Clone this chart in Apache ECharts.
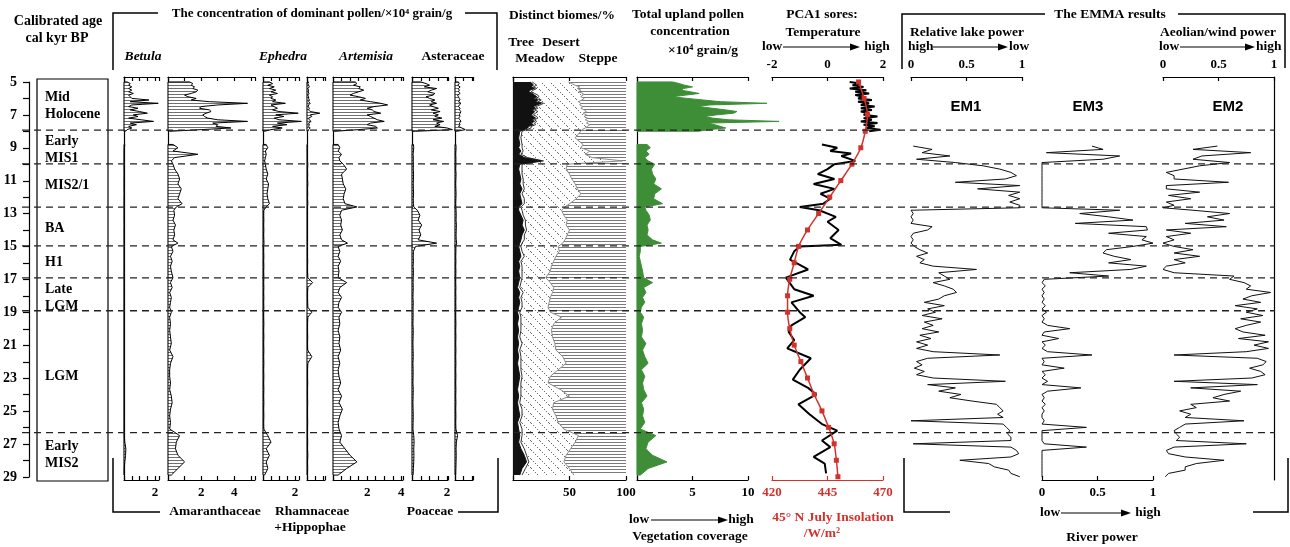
<!DOCTYPE html>
<html>
<head>
<meta charset="utf-8">
<script src="https://cdn.jsdelivr.net/npm/echarts@6/dist/echarts.min.js"></script>
<style>html,body{margin:0;background:#fff}#c{width:1290px;height:547px}</style>
</head>
<body>
<div id="c"></div>
<script>
// ---- data (ages in cal kyr BP) ----
const pollenAge = [5.0,5.1,5.2,5.3,5.4,5.5,5.6,5.7,5.8,5.9,6.0,6.1,6.2,6.3,6.4,6.5,6.6,6.7,6.8,6.9,7.0,7.1,7.2,7.3,7.4,7.5,7.6,7.7,7.8,7.9,8.0,8.4,
  8.8,9.0,9.2,9.4,9.6,9.8,10.0,10.3,10.6,10.9,11.2,11.5,11.8,12.1,12.4,12.6,12.8,13.1,13.4,13.7,14.0,14.3,14.6,14.8,15.0,
  15.3,15.6,15.9,16.2,16.5,16.9,17.2,17.5,17.8,18.1,18.4,18.7,19.0,19.3,19.7,20.1,20.5,20.9,21.3,21.7,22.1,22.5,22.9,23.3,
  23.7,24.1,24.5,24.9,25.3,25.7,26.1,26.5,26.9,27.3,27.7,28.1,28.5,28.9];

const betula = [0.2,0.4,0.3,0.5,0.3,0.5,0.3,0.6,0.3,0.4,0.5,1.6,0.4,2.2,0.5,0.3,0.9,0.4,1.0,1.5,0.6,0.9,0.3,1.1,1.9,0.4,0.8,0.3,0.5,0.2,0.1,null,
  0.05,0.03,0.02,0.02,0.02,0.02, 0.02,0.02,0.03,0.02,0.02,0.02,0.03,0.02,0.02,0.02, 0.02,0.02,0.02,0.03,0.02,0.02,0.02,0.03,0.02,
  0.02,0.02,0.02,0.02,0.02,0.02, 0.02,0.02,0.02,0.02,0.02,0.02,0.02,
  0.02,0.02,0.02,0.02,0.02,0.02,0.02,0.02,0.02,0.02,0.02,0.02,0.02,0.02,0.02,0.02,0.02,0.02,0.02,0.05,0.12,0.1,0.05,0.02,0.02];
const amaranth = [1.3,1.5,1.4,1.6,1.5,1.8,1.7,1.4,1.0,1.2,1.7,1.4,2.5,4.8,3.0,2.0,1.9,2.5,2.6,2.3,2.1,2.2,2.4,3.0,4.8,2.7,3.0,2.9,3.8,2.0,0.1,null,
  0.3,0.6,0.3,1.8,0.4,0.2, 0.3,0.4,0.6,0.7,0.6,0.8,0.7,0.6,0.85,0.5, 0.35,0.4,0.3,0.45,0.35,0.4,0.3,0.6,0.2,
  0.3,0.15,0.25,0.15,0.2,0.3, 0.15,0.25,0.1,0.2,0.15,0.1,0.2,
  0.1,0.15,0.1,0.15,0.2,0.1,0.3,0.15,0.1,0.1,0.15,0.1,0.2,0.25,0.15,0.1,0.15,0.1,0.7,0.5,0.45,0.6,1.0,0.6,0.2];
const ephedra = [0.4,0.6,0.3,0.7,0.4,0.8,0.5,0.9,0.4,0.6,0.5,0.8,0.6,1.4,0.5,0.7,0.9,0.6,1.0,2.2,0.8,1.3,0.7,1.0,2.4,0.9,1.5,0.6,1.2,0.5,0.1,null,
  0.2,0.3,0.15,0.2,0.15,0.1, 0.15,0.2,0.3,0.2,0.35,0.3,0.25,0.3,0.4,0.2, 0.05,0.04,0.05,0.04,0.05,0.04,0.05,0.06,0.04,
  0.04,0.05,0.04,0.05,0.04,0.05, 0.04,0.05,0.04,0.05,0.04,0.05,0.04,
  0.04,0.05,0.04,0.05,0.04,0.05,0.04,0.05,0.04,0.05,0.04,0.05,0.04,0.05,0.04,0.05,0.04,0.05,0.3,0.5,0.2,0.4,0.2,0.3,0.1];
const rhamHippo = [0.1,0.05,0.1,0.15,0.05,0.1,0.08,0.12,0.05,0.1,0.1,0.15,0.1,0.2,0.1,0.08,0.15,0.1,0.2,0.8,0.2,0.3,0.1,0.15,0.25,0.1,0.15,0.1,0.2,0.1,0.05,null,
  0.03,0.03,0.03,0.03,0.03,0.03, 0.05,0.03,0.04,0.03,0.05,0.03,0.04,0.03,0.05,0.03, 0.03,0.03,0.03,0.03,0.03,0.03,0.03,0.03,0.03,
  0.03,0.03,0.04,0.03,0.03,0.05, 0.35,0.05,0.03,0.03,0.04,0.05,0.3,
  0.05,0.03,0.03,0.04,0.03,0.04,0.3,0.05,0.03,0.03,0.04,0.03,0.03,0.04,0.03,0.03,0.04,0.03,0.03,0.04,0.03,0.05,0.03,0.04,0.03];
const artemisia = [1.3,1.4,1.2,1.6,1.5,1.8,1.5,1.2,1.0,1.5,1.9,1.6,2.2,2.8,3.2,2.4,2.0,2.3,2.4,2.8,2.0,2.2,2.4,2.6,3.0,2.2,2.0,2.5,2.6,1.5,0.1,null,
  0.3,0.4,0.3,0.5,0.35,0.4, 0.6,0.8,0.5,0.55,0.6,0.75,0.65,0.6,0.7,1.4, 0.5,0.4,0.5,0.45,0.55,0.4,0.5,0.85,0.3,
  0.4,0.3,0.45,0.3,0.35,0.3, 0.8,0.4,0.3,0.5,0.35,0.3,0.5,
  0.35,0.4,0.3,0.4,0.35,0.45,0.3,0.4,0.3,0.35,0.45,0.3,0.5,0.35,0.55,0.4,0.3,0.35,0.5,0.4,0.7,1.0,1.4,0.8,0.3];
const asteraceae = [0.5,0.8,1.0,0.7,1.4,1.1,0.9,1.3,1.2,0.8,1.0,1.3,1.1,1.4,1.0,1.2,1.5,1.1,1.6,1.2,1.5,1.3,1.7,1.2,1.8,1.4,1.6,1.3,2.0,2.3,0.2,null,
  0.08,0.1,0.08,0.06,0.08,0.07, 0.08,0.07,0.09,0.08,0.07,0.08,0.09,0.07,0.08,0.1, 0.3,0.45,0.35,0.55,0.4,0.5,0.35,1.4,0.2,
  0.08,0.07,0.08,0.06,0.08,0.07, 0.06,0.07,0.06,0.05,0.07,0.06,0.06,
  0.06,0.05,0.07,0.06,0.05,0.06,0.07,0.05,0.06,0.06,0.05,0.07,0.06,0.05,0.06,0.07,0.06,0.05,0.1,0.12,0.1,0.11,0.1,0.08,0.06];
const poaceae = [0.2,0.25,0.15,0.3,0.2,0.25,0.2,0.3,0.15,0.2,0.25,0.3,0.2,0.35,0.25,0.2,0.3,0.25,0.35,0.3,0.25,0.3,0.2,0.3,0.35,0.25,0.3,0.2,0.4,0.6,0.1,null,
  0.05,0.06,0.05,0.04,0.05,0.05, 0.05,0.04,0.06,0.05,0.04,0.05,0.06,0.05,0.04,0.05, 0.06,0.07,0.06,0.08,0.07,0.06,0.07,0.1,0.05,
  0.05,0.04,0.05,0.04,0.05,0.04, 0.04,0.05,0.04,0.05,0.04,0.05,0.04,
  0.04,0.05,0.04,0.05,0.04,0.05,0.04,0.05,0.04,0.05,0.04,0.05,0.04,0.05,0.04,0.05,0.04,0.05,0.15,0.08,0.06,0.07,0.06,0.05,0.04];

// biomes, % of pollen sum
const treePct = [15,17,18,16,19,15,14,17,19,21,18,22,20,25,21,18,20,17,19,18,16,18,20,17,19,16,18,14,13,10,6,5,
  6,5,7,5,10,25, 6,5,6,7,6,8,6,7,8,5, 5,7,9,8,10,8,7,6,5, 6,7,5,6,5,6, 5,4,6,5,6,5,4,
  5,4,5,4,5,4,5,4,5,6,5,4,5,4,5,6,4,5,6,5,7,10,12,8,6];
const meadowPct = [2,2,3,2,2,3,2,2,3,2,2,3,2,2,3,2,2,2,3,2,2,3,2,2,2,3,2,2,3,2,2,2,
  2,3,2,2,3,2, 2,3,2,2,3,2,2,3,2,2, 3,2,2,3,2,2,3,2,2, 2,3,2,2,3,2, 2,2,3,2,2,3,2,
  2,3,2,2,3,2,2,3,2,2,2,3,2,2,3,2,2,3,2,2,3,2,2,3,2];
const steppePct = [51,48,45,41,43,40,42,38,38,40,37,39,42,40,41,38,40,37,35,38,35,37,34,36,33,35,32,34,36,39,40,45,
  38,40,32,36,30,3, 52,53,50,48,45,43,40,44,50,54, 57,55,52,53,50,52,54,56,60, 59,62,64,66,67,71, 67,64,65,67,68,69,67,
  57,64,66,65,63,62,56,53,60,67,69,58,50,64,65,62,60,55,42,45,49,53,55,50,46];

// total upland pollen concentration, x10^4 grain/g
const upland = [3.2,3.8,4.3,5.0,4.2,4.0,4.8,5.6,4.4,3.2,4.5,6.0,7.5,11.7,6.5,5.5,6.8,8.0,9.0,8.7,7.2,6.1,6.8,8.2,12.8,6.4,7.0,7.5,8.0,6.5,5.5,null,
  0.9,1.2,0.8,1.1,0.7,1.0, 1.6,1.3,1.4,1.7,1.5,2.2,1.6,1.5,2.3,0.7, 0.8,1.1,1.2,0.9,1.0,0.9,1.4,2.2,0.3,
  0.3,0.2,0.3,0.4,0.5,0.6, 1.4,0.6,0.8,0.5,0.7,0.4,0.3,
  0.6,0.4,0.5,0.4,0.8,0.5,0.7,1.0,0.4,0.7,0.5,0.6,0.9,0.4,0.6,0.5,0.7,0.3,1.7,1.0,0.8,1.4,2.7,1.0,0.3];

// PCA1 scores
const pcaAge = [5.0,5.1,5.2,5.3,5.4,5.5,5.6,5.7,5.8,5.9,6.0,6.1,6.2,6.3,6.4,6.5,6.6,6.7,6.8,6.9,7.0,7.1,7.2,7.3,7.4,7.5,7.6,7.7,7.8,7.9,8.0,8.4,
  8.8,9.0,9.2,9.35,9.5,9.8,10.0,10.3,10.6,10.9,11.2,11.5,11.8,12.1,12.4,12.6,12.8,13.2,13.5,14.0,14.5,14.9,15.0,15.3,
  15.8,16.4,16.9,17.6,18.0,18.4,19.0,19.3,19.8,20.2,20.7,21.2,21.8,22.5,23.1,23.6,24.0,24.6,25.2,25.8,26.2,26.8,27.2,27.8,28.2,28.8];
const pca1 = [0.8,1.2,0.9,1.3,0.8,1.4,1.0,1.5,1.0,1.3,1.1,1.6,1.1,1.5,1.2,1.7,1.2,1.6,1.2,1.5,1.3,1.8,1.3,1.6,1.2,1.8,1.3,1.7,1.4,1.9,1.5,null,
  -0.2,0.35,0.1,0.85,0.5,1.0, 0.25,0.0,-0.35,0.25,-0.5,0.25,-0.25,0.1,-0.15,-1.0, -0.3,0.3,0.0,0.4,0.1,0.5,-1.0,-1.2,
  -1.35,-0.7,-1.5,-1.2,-0.5,-1.3,-1.0,-0.8,-1.3,-1.4, -1.2,-1.45,-0.6,-1.0,-1.25,-0.7,-0.4,-1.05,-0.65,-0.2,
  0.35,-0.2,0.1,-0.5,-0.1,-0.05];

// 45N July insolation, W/m2
const insoAge = [5,6,7,8,9,10,11,12,13,14,15,16,17,18,19,20,21,22,23,24,25,26,27,28,29];
const insolation = [459,461.5,463,462,460,456,451,446,441,436,432,430,428,427,427,428,430,433,436,439,442.5,445.5,448,449,449.7];

// EMMA end members
const emAge = [8.9,9.1,9.3,9.5,9.7,9.9,10.1,10.3,10.5,10.7,10.9,11.1,11.3,11.5,11.7,11.9,12.1,12.3,12.5,12.65,
  12.8,13.0,13.2,13.4,13.6,13.8,14.0,14.2,14.4,14.6,14.8,15.0,15.2,15.4,15.6,15.8,16.0,16.2,16.4,16.6,16.8,17.0,17.2,17.4,17.6,17.8,18.0,
  18.2,18.4,18.6,18.8,19.0,19.2,19.4,19.6,19.8,20.0,20.2,20.4,20.6,20.8,21.0,21.2,21.4,21.6,21.8,22.0,22.2,22.4,22.6,22.8,23.0,23.2,23.4,23.6,23.8,24.0,
  24.2,24.4,24.6,24.8,25.0,25.2,25.4,25.6,25.8,26.0,26.2,26.4,26.6,26.8,27.0,27.2,27.4,27.6,27.8,28.0,28.2,28.4,28.6,28.8,29.0];
const em1 = [0.02,0.19,0.1,0.35,0.05,0.4,0.65,0.8,0.9,0.95,0.85,0.4,0.98,0.6,0.98,0.88,0.98,0.89,0.98,0.98,
  0.0,0.02,0.0,0.02,0.0,0.19,0.15,0.02,0.0,0.02,0.0,0.03,0.08,0.15,0.05,0.12,0.08,0.2,0.59,0.25,0.3,0.35,0.2,0.3,0.38,0.41,0.3,
  0.25,0.12,0.3,0.15,0.22,0.1,0.28,0.12,0.2,0.1,0.25,0.08,0.18,0.05,0.15,0.05,0.2,0.8,0.15,0.05,0.1,0.03,0.12,0.05,0.2,0.85,0.15,0.4,0.25,0.45,
  0.35,0.55,0.77,0.8,0.83,0.78,0.83,0.0,0.83,0.86,0.89,0.87,0.9,0.9,0.02,0.9,0.95,0.97,0.9,0.44,0.7,0.75,0.88,0.9,0.98];
const em3 = [0.45,0.55,0.04,0.7,0.55,0.0,0,0,0,0,0,0,0,0,0,0,0,0,0,0,
  0.7,0.34,0.6,0.82,0.3,0.94,0.95,0.6,0.94,0.9,1.0,0.82,0.58,0.55,0.65,0.8,0.6,0.94,0.8,0.25,0.6,0.02,0.0,0.03,0.0,0.02,0.0,
  0.02,0.0,0.03,0.0,0.04,0.0,0.02,0.0,0.05,0.25,0.02,0.0,0.15,0.0,0.03,0.0,0.05,0.45,0.0,0.02,0.0,0.2,0.0,0.03,0.0,0.05,0.0,0.35,0.05,0.0,
  0.02,0.0,0.03,0.0,0.02,0.0,0.0,0.02,0.0,0.4,0.0,0.0,0.0,0.0,0.02,0.4,0.0,0.0,0.0,0.0,0.0,0.0,0.0,0.0,0.0];
const em2 = [0.49,0.27,0.79,0.35,0.27,0.6,0.33,0.18,0.03,0.1,0.1,0.59,0.03,0.03,0.33,0.05,0.25,0.03,0.1,0.0,
  0.27,0.6,0.4,0.55,0.2,0.57,0.03,0.25,0.03,0.1,0.0,0.1,0.27,0.1,0.33,0.1,0.2,0.03,0.0,0.1,0.64,0.6,0.73,0.79,0.75,0.97,0.8,
  0.72,0.88,0.65,0.85,0.75,0.9,0.7,0.88,0.75,0.65,0.72,0.92,0.68,0.95,0.82,0.95,0.75,0.1,0.85,0.93,0.9,0.78,0.88,0.92,0.8,0.1,0.85,0.25,0.7,0.55,
  0.45,0.6,0.25,0.3,0.15,0.25,0.2,0.73,0.2,0.15,0.1,0.12,0.15,0.12,0.75,0.1,0.03,0.05,0.2,0.55,0.3,0.2,0.2,0.05,0.02];

// climate stages
const stageBounds = [7.92, 9.98, 12.6, 14.96, 16.9, 18.9, 26.3];
const stageNames = ['Mid\nHolocene', 'Early\nMIS1', 'MIS2/1', 'BA', 'H1', 'Late\nLGM', 'LGM', 'Early\nMIS2'];
const stageMid = [6.43, 9.1, 11.3, 13.87, 15.94, 18.1, 22.86, 27.63];

// ---- layout ----
const T = 77, H = 403, YMIN = 4.7, YMAX = 29.2;
const FONT = '"Liberation Serif","Times New Roman",serif';
const SANS = '"Liberation Sans",Arial,sans-serif';
const RED = '#d3322c';
const GREEN = '#3e8e38';

function pattern(w, h, draw) {
  const c = document.createElement('canvas');
  c.width = w; c.height = h;
  const x = c.getContext('2d');
  x.fillStyle = '#fff'; x.fillRect(0, 0, w, h);
  draw(x);
  return {image: c, repeat: 'repeat'};
}
const hatchPollen = pattern(4, 3, x => { x.fillStyle = '#707070'; x.fillRect(0, 1, 4, 1); });
const hatchSteppe = pattern(4, 3, x => { x.fillStyle = '#7a7a7a'; x.fillRect(0, 1, 4, 1); });
const hatchDesert = pattern(9, 9, x => { x.fillStyle = '#6e6e6e'; for (let i = 0; i < 9; i += 2) x.fillRect(i, i, 1, 1); });

const grids = [], xAxes = [], yAxes = [], series = [];

// age axis
grids.push({left: 28, top: 82, width: 2, height: 395});
xAxes.push({type: 'value', gridIndex: 0, show: false, min: 0, max: 1});
yAxes.push({type: 'value', gridIndex: 0, inverse: true, min: 5, max: 29, interval: 1, position: 'left',
  axisLine: {show: true, lineStyle: {color: '#000', width: 1.2}},
  axisTick: {show: true, length: 6, lineStyle: {color: '#000', width: 1.2}},
  splitLine: {show: false},
  axisLabel: {margin: 12, fontFamily: FONT, fontWeight: 'bold', fontSize: 14, color: '#000',
    formatter: v => (v % 2 === 1 ? String(v) : '')}});

function xAxis(g, pos, a, sc) {
  const c = (a && a.color) || '#000';
  const ax = {type: 'value', gridIndex: g, position: pos, show: !!a,
    min: a && a.min != null ? a.min : sc.min, max: a && a.max != null ? a.max : sc.max,
    axisLine: {show: true, onZero: false, lineStyle: {color: c, width: 1.2}},
    axisTick: {show: true, inside: true, length: 4, lineStyle: {color: c, width: 1.2}},
    splitLine: {show: false},
    axisLabel: {show: !!(a && a.labels), margin: 6, fontFamily: FONT, fontWeight: 'bold', fontSize: 13, color: c,
      formatter: v => ((a && a.labels) || []).indexOf(v) >= 0 ? String(v) : ''}};
  if (a && a.ticks) {
    ax.axisTick.customValues = a.ticks;
    ax.axisLabel.customValues = a.ticks;
  } else {
    ax.interval = sc.iv;
  }
  return ax;
}

function panel(o) {
  const g = grids.length;
  grids.push({left: o.left, top: T, width: o.width, height: H});
  const xi = xAxes.length;
  xAxes.push(xAxis(g, 'top', o.top, o));
  xAxes.push(xAxis(g, 'bottom', o.bottom, o));
  const yi = yAxes.length;
  yAxes.push({type: 'value', gridIndex: g, inverse: true, min: YMIN, max: YMAX, position: o.yPos || 'left', show: !!o.yLine,
    axisLine: {show: true, onZero: false, lineStyle: {color: '#000', width: 1.2}},
    axisTick: {show: false}, axisLabel: {show: false}, splitLine: {show: false}});
  return {xi: xi, xb: xi + 1, yi: yi};
}

const pBetula = panel({left: 124, width: 35, min: 0, max: 2.25, iv: 0.5, top: {}, bottom: {labels: [2]}, yLine: true});
const pAmar   = panel({left: 168, width: 87, min: 0, max: 5.25, iv: 1, top: {}, bottom: {labels: [2, 4]}, yLine: true});
const pEph    = panel({left: 263, width: 36, min: 0, max: 2.25, iv: 0.5, top: {}, bottom: {labels: [2]}, yLine: true});
const pRham   = panel({left: 307, width: 18, min: 0, max: 1.125, iv: 0.5, top: {}, bottom: {}, yLine: true});
const pArt    = panel({left: 333, width: 70, min: 0, max: 4.1, iv: 0.5, top: {}, bottom: {labels: [2, 4]}, yLine: true});
const pAst    = panel({left: 412, width: 36, min: 0, max: 2.05, iv: 0.5, top: {}, bottom: {labels: [2]}, yLine: true});
const pPoa    = panel({left: 455, width: 18, min: 0, max: 1.05, iv: 0.5, top: {}, bottom: {}, yLine: true});
const pBiome  = panel({left: 513, width: 113, min: 0, max: 100, iv: 50, top: {}, bottom: {labels: [50, 100]}, yLine: true});
const pUpl    = panel({left: 637, width: 111, min: 0, max: 10, iv: 5, top: {}, bottom: {labels: [5, 10]}, yLine: true});
const pPca    = panel({left: 772, width: 111, min: -2, max: 2, iv: 2, top: {labels: [-2, 0, 2]},
  bottom: {labels: [420, 445, 470], ticks: [420, 445, 470], min: 420, max: 470, color: RED}});
const pEm1    = panel({left: 911, width: 111, min: 0, max: 1, iv: 0.5, top: {labels: [0, 0.5, 1]}, bottom: false});
const pEm3    = panel({left: 1042, width: 111, min: 0, max: 1, iv: 0.5, top: false, bottom: {labels: [0, 0.5, 1]}});
const pEm2    = panel({left: 1163, width: 111, min: 0, max: 1, iv: 0.5, top: {labels: [0, 0.5, 1]}, bottom: false, yLine: true, yPos: 'right'});

// filled profile from the zero line to the curve, broken at gaps (null)
function areaSeries(p, ages, vals, fill, stroke) {
  return {type: 'custom', xAxisIndex: p.xi, yAxisIndex: p.yi, silent: true, z: 3,
    data: ages.map((a, i) => [vals[i], a]), encode: {x: 0, y: 1},
    renderItem: (params, api) => {
      if (params.dataIndex !== 0) return null;
      const segs = [];
      let cur = null;
      ages.forEach((a, i) => {
        if (vals[i] == null) { cur = null; return; }
        if (!cur) { cur = []; segs.push(cur); }
        cur.push([vals[i], a]);
      });
      return {type: 'group', children: segs.map(s => ({type: 'polygon',
        shape: {points: [api.coord([0, s[0][1]])].concat(s.map(d => api.coord(d)), [api.coord([0, s[s.length - 1][1]])])},
        style: {fill: fill, stroke: stroke, lineWidth: 1}}))};
    }};
}

// band between two cumulative boundaries
function bandSeries(p, ages, lo, hi, fill, edge) {
  return {type: 'custom', xAxisIndex: p.xi, yAxisIndex: p.yi, silent: true, z: 3,
    data: ages.map((a, i) => [hi[i], a]), encode: {x: 0, y: 1},
    renderItem: (params, api) => {
      if (params.dataIndex !== 0) return null;
      const left = ages.map((a, i) => api.coord([lo[i], a]));
      const right = ages.map((a, i) => api.coord([hi[i], a]));
      const kids = [{type: 'polygon', shape: {points: left.concat(right.slice().reverse())}, style: {fill: fill, stroke: null}}];
      if (edge) kids.push({type: 'polyline', shape: {points: right}, style: {stroke: edge, lineWidth: 1, fill: null}});
      return {type: 'group', children: kids};
    }};
}

series.push(areaSeries(pBetula, pollenAge, betula, hatchPollen, '#000'));
series.push(areaSeries(pAmar, pollenAge, amaranth, hatchPollen, '#000'));
series.push(areaSeries(pEph, pollenAge, ephedra, hatchPollen, '#000'));
series.push(areaSeries(pRham, pollenAge, rhamHippo, hatchPollen, '#000'));
series.push(areaSeries(pArt, pollenAge, artemisia, hatchPollen, '#000'));
series.push(areaSeries(pAst, pollenAge, asteraceae, hatchPollen, '#000'));
series.push(areaSeries(pPoa, pollenAge, poaceae, hatchPollen, '#000'));

const zeroLine = pollenAge.map(() => 0);
const fullLine = pollenAge.map(() => 100);
const treeEdge = treePct.slice();
const meadowEdge = treePct.map((t, i) => t + meadowPct[i]);
const desertEdge = steppePct.map(s => 100 - s);
series.push(bandSeries(pBiome, pollenAge, desertEdge, fullLine, hatchSteppe, null));
series.push(bandSeries(pBiome, pollenAge, meadowEdge, desertEdge, hatchDesert, '#8a8a8a'));
series.push(bandSeries(pBiome, pollenAge, treeEdge, meadowEdge, '#fff', '#333'));
series.push(bandSeries(pBiome, pollenAge, zeroLine, treeEdge, '#111', '#111'));

series.push(areaSeries(pUpl, pollenAge, upland, GREEN, GREEN));

series.push({type: 'line', xAxisIndex: pPca.xi, yAxisIndex: pPca.yi, z: 4,
  data: pcaAge.map((a, i) => [pca1[i], a]), symbol: 'none', connectNulls: false,
  lineStyle: {color: '#000', width: 2}});
series.push({type: 'line', xAxisIndex: pPca.xb, yAxisIndex: pPca.yi, z: 5,
  data: insoAge.map((a, i) => [insolation[i], a]), symbol: 'rect', symbolSize: 5, smooth: 0.3,
  itemStyle: {color: RED}, lineStyle: {color: RED, width: 1.5}});

[[pEm1, em1], [pEm3, em3], [pEm2, em2]].forEach(([p, v]) => {
  series.push({type: 'line', xAxisIndex: p.xi, yAxisIndex: p.yi, z: 4,
    data: emAge.map((a, i) => [v[i], a]), symbol: 'none', lineStyle: {color: '#111', width: 1}});
});

const chart = echarts.init(document.getElementById('c'));
chart.setOption({animation: false, backgroundColor: '#fff', grid: grids, xAxis: xAxes, yAxis: yAxes, series: series});

// ---- annotations ----
function txt(s, x, y, o) {
  o = o || {};
  const al = o.align || 'center';
  return {type: 'text', x: x, y: y, z: 20, silent: true,
    style: {text: s, fill: o.color || '#000', fontFamily: o.family || FONT, fontSize: o.size || 13.5,
      fontWeight: 'bold', fontStyle: o.italic ? 'italic' : 'normal', lineHeight: o.lh || 16,
      textAlign: al, textVerticalAlign: 'middle', align: al, verticalAlign: 'middle'}};
}
function pl(points, w, color) {
  return {type: 'polyline', z: 20, silent: true, shape: {points: points}, style: {stroke: color || '#000', lineWidth: w || 1.5, fill: null}};
}
function arrow(x1, x2, y) {
  return [pl([[x1, y], [x2 - 8, y]], 1.2),
    {type: 'polygon', z: 20, silent: true, shape: {points: [[x2, y], [x2 - 10, y - 3.5], [x2 - 10, y + 3.5]]}, style: {fill: '#000'}}];
}

const g = [];
g.push(txt('Calibrated age', 58, 21, {size: 14}), txt('cal kyr BP', 57, 38, {size: 14}));
g.push(pl([[113, 70], [113, 13], [158, 13]]), pl([[465, 13], [497, 13], [497, 70]]));
g.push(txt('The concentration of dominant pollen/×10⁴ grain/g', 312, 14, {size: 13}));
g.push(txt('Betula', 143, 57, {italic: true}), txt('Ephedra', 283, 57, {italic: true}),
  txt('Artemisia', 366, 57, {italic: true}), txt('Asteraceae', 453, 57));
g.push(txt('Distinct biomes/%', 562, 16), txt('Tree', 521, 43), txt('Desert', 561, 43), txt('Meadow', 540, 59), txt('Steppe', 598, 59));
g.push(txt('Total upland pollen', 688, 15), txt('concentration', 690, 32), txt('×10⁴ grain/g', 703, 51));
g.push(txt('PCA1 sores:', 822, 15), txt('Temperature', 823, 33), txt('low', 772, 47), txt('high', 877, 47));
g.push(...arrow(783, 860, 47));
g.push(pl([[902, 69], [902, 14], [1045, 14]]), pl([[1178, 14], [1285, 14], [1285, 68]]));
g.push(txt('The EMMA results', 1110, 15));
g.push(txt('Relative lake power', 967, 33), txt('high', 908, 47, {align: 'left'}), txt('low', 1009, 47, {align: 'left'}));
g.push(...arrow(933, 1008, 47));
g.push(txt('Aeolian/wind power', 1218, 33), txt('low', 1159, 47, {align: 'left'}), txt('high', 1256, 47, {align: 'left'}));
g.push(...arrow(1180, 1255, 47));
g.push(txt('EM1', 966, 107, {family: SANS, size: 15}), txt('EM3', 1088, 107, {family: SANS, size: 15}), txt('EM2', 1228, 107, {family: SANS, size: 15}));

g.push(pl([[113, 458], [113, 512], [160, 512]]), pl([[458, 512], [498, 512], [498, 458]]));
g.push(txt('Amaranthaceae', 215, 512), txt('Rhamnaceae', 312, 512), txt('+Hippophae', 310, 528), txt('Poaceae', 430, 512));
g.push(txt('low', 639, 520), txt('high', 741, 520), txt('Vegetation coverage', 690, 537));
g.push(...arrow(651, 728, 520));
g.push(txt('45° N July Insolation', 833, 518, {color: RED}), txt('/W/m²', 822, 534, {color: RED}));
g.push(txt('low', 1050, 513), txt('high', 1148, 513), txt('River power', 1102, 538));
g.push(...arrow(1061, 1131, 513));
g.push(pl([[904, 458], [904, 512], [950, 512]]), pl([[1253, 512], [1288, 512], [1288, 458]]));

// stage column
g.push({type: 'rect', z: 20, silent: true, shape: {x: 37, y: 79, width: 71, height: 402}, style: {fill: null, stroke: '#000', lineWidth: 1.2}});
stageNames.forEach((s, i) => {
  const y = chart.convertToPixel({yAxisIndex: 0}, stageMid[i]);
  g.push(txt(s, 45, y, {align: 'left', size: 14, lh: 17}));
});
stageBounds.forEach(b => {
  const y = chart.convertToPixel({yAxisIndex: 0}, b);
  g.push({type: 'line', z: 25, silent: true, shape: {x1: 22, y1: y, x2: 1275, y2: y},
    style: {stroke: '#222', lineWidth: 1.3, lineDash: [7, 5]}});
});

chart.setOption({graphic: g});
</script>
</body>
</html>
